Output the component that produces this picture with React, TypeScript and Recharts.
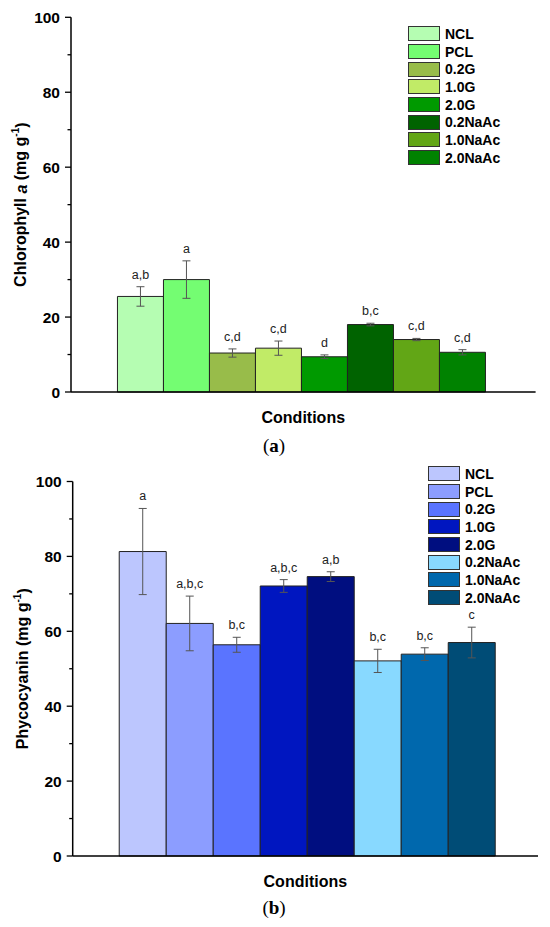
import { BarChart, Bar, XAxis, YAxis, ErrorBar, LabelList, Label } from 'recharts'

const conditions = ['NCL', 'PCL', '0.2G', '1.0G', '2.0G', '0.2NaAc', '1.0NaAc', '2.0NaAc']

const chlValues = [25.5, 30.0, 10.4, 11.7, 9.4, 18.0, 14.0, 10.6]
const chlErrors = [2.6, 5.0, 1.1, 1.9, 0.5, 0.35, 0.3, 0.7]
const chlLetters = ['a,b', 'a', 'c,d', 'c,d', 'd', 'b,c', 'c,d', 'c,d']
const chlColors = ['#b5fdb2', '#74fd72', '#98bc4a', '#c1eb67', '#009a00', '#006300', '#62a616', '#008200']

const pcValues = [81.3, 62.1, 56.4, 72.1, 74.6, 52.1, 53.9, 57.0]
const pcErrors = [11.5, 7.3, 2.0, 1.7, 1.3, 3.1, 1.7, 4.1]
const pcLetters = ['a', 'a,b,c', 'b,c', 'a,b,c', 'a,b', 'b,c', 'b,c', 'c']
const pcColors = ['#bcc6fe', '#8c9dff', '#5a74ff', '#0016c0', '#000e80', '#88d9ff', '#0068ad', '#004c76']

const yTicks = [0, 10, 20, 30, 40, 50, 60, 70, 80, 90, 100]

const FONT = 'Arial, "Liberation Sans", sans-serif'
const TICK_SIZE = 6
const TICK_MARGIN = 5

function buildRows(values: number[], errors: number[]) {
  const row: Record<string, number | string> = { name: 'Conditions' }
  values.forEach((v, i) => {
    row[`s${i}`] = v
    row[`e${i}`] = errors[i]
  })
  return [row]
}

function YTick(props: any) {
  const { x, y, payload } = props
  const v = payload.value
  const major = v % 20 === 0
  const ax = Number(x) + TICK_SIZE + TICK_MARGIN
  return (
    <g>
      <line x1={ax} x2={ax - (major ? 6 : 3.5)} y1={y} y2={y} stroke="#000" strokeWidth={1.3} />
      {major && (
        <text x={ax - 11} y={y} textAnchor="end" dominantBaseline="central" fontFamily={FONT} fontWeight={700} fontSize={15.5} fill="#000">
          {v}
        </text>
      )}
    </g>
  )
}

// letters sit just above the top of each error bar
function letterRenderer(value: number, err: number, letter: string) {
  return (p: any) => {
    const vb = p.viewBox && p.viewBox.height !== undefined ? p.viewBox : p
    const x = Number(vb.x)
    const y = Number(vb.y)
    const w = Number(vb.width)
    const h = Number(vb.height)
    const perUnit = h / value
    const errTop = y - err * perUnit
    return (
      <text x={x + w / 2} y={errTop - 8} textAnchor="middle" fontFamily={FONT} fontSize={12.5} fill="#222">
        {letter}
      </text>
    )
  }
}

interface PanelProps {
  values: number[]
  errors: number[]
  letters: string[]
  colors: string[]
  title: 'chl' | 'pc'
  margin: { top: number; right: number; left: number; bottom: number }
  xHeight: number
}

function Panel({ values, errors, letters, colors, title, margin, xHeight }: PanelProps) {
  const data = buildRows(values, errors)
  const yTitle = ({ viewBox }: any) => {
    const cx = viewBox.x + 10
    const cy = viewBox.y + viewBox.height / 2
    return (
      <text
        x={cx}
        y={cy}
        transform={`rotate(-90, ${cx}, ${cy})`}
        textAnchor="middle"
        dominantBaseline="central"
        fontFamily={FONT}
        fontWeight={700}
        fontSize={16}
        fill="#000"
      >
        {title === 'chl' ? (
          <>
            Chlorophyll <tspan fontStyle="italic">a</tspan> (mg g
          </>
        ) : (
          <>Phycocyanin (mg g</>
        )}
        <tspan dy={-6} fontSize={10}>-1</tspan>
        <tspan dy={6}>)</tspan>
      </text>
    )
  }
  const xTitle = ({ viewBox }: any) => (
    <text
      x={viewBox.x + viewBox.width / 2}
      y={viewBox.y + 25}
      textAnchor="middle"
      dominantBaseline="central"
      fontFamily={FONT}
      fontWeight={700}
      fontSize={16}
      fill="#000"
    >
      Conditions
    </text>
  )
  return (
    <BarChart width={550} height={440} data={data} margin={margin} barCategoryGap="10%" barGap={0}>
      <XAxis
        dataKey="name"
        tick={false}
        tickSize={7}
        height={xHeight}
        axisLine={{ stroke: '#000', strokeWidth: 1.5 }}
        tickLine={{ stroke: '#000', strokeWidth: 1.3 }}
      >
        <Label content={xTitle} />
      </XAxis>
      <YAxis
        type="number"
        domain={[0, 100]}
        ticks={yTicks}
        interval={0}
        width={60}
        tickSize={TICK_SIZE}
        tickMargin={TICK_MARGIN}
        tickLine={false}
        axisLine={{ stroke: '#000', strokeWidth: 1.5 }}
        tick={<YTick />}
      >
        <Label content={yTitle} />
      </YAxis>
      {conditions.map((c, i) => (
        <Bar key={c} name={c} dataKey={`s${i}`} fill={colors[i]} stroke="#222" strokeWidth={1} isAnimationActive={false}>
          <ErrorBar dataKey={`e${i}`} width={4} stroke="#555" strokeWidth={1} direction="y" isAnimationActive={false} />
          <LabelList dataKey={`s${i}`} content={letterRenderer(values[i], errors[i], letters[i])} />
        </Bar>
      ))}
    </BarChart>
  )
}

function LegendBox({ colors, left, top }: { colors: string[]; left: number; top: number }) {
  return (
    <div style={{ position: 'absolute', left, top }}>
      {conditions.map((c, i) => (
        <div key={c} style={{ display: 'flex', alignItems: 'center', height: 17.7 }}>
          <div
            style={{
              width: 32,
              height: 15,
              boxSizing: 'border-box',
              border: '1.5px solid #333',
              background: colors[i],
            }}
          />
          <span style={{ marginLeft: 5, fontFamily: FONT, fontWeight: 700, fontSize: 14, color: '#000' }}>{c}</span>
        </div>
      ))}
    </div>
  )
}

function Caption({ letter, top }: { letter: string; top: number }) {
  return (
    <div
      style={{
        position: 'absolute',
        left: 0,
        top,
        width: 548,
        textAlign: 'center',
        fontFamily: '"Liberation Serif", "DejaVu Serif", serif',
        fontSize: 19,
        lineHeight: '22px',
        color: '#000',
      }}
    >
      (<b>{letter}</b>)
    </div>
  )
}

export default function App() {
  return (
    <div style={{ position: 'absolute', left: 0, top: 0, width: 550, height: 927, background: '#fff' }}>
      <div style={{ position: 'absolute', left: 0, top: 0 }}>
        <Panel
          values={chlValues}
          errors={chlErrors}
          letters={chlLetters}
          colors={chlColors}
          title="chl"
          margin={{ top: 17.3, right: 14.4, left: 11, bottom: 8 }}
          xHeight={40}
        />
      </div>
      <LegendBox colors={chlColors} left={408} top={25} />
      <Caption letter="a" top={435} />
      <div style={{ position: 'absolute', left: 0, top: 460 }}>
        <Panel
          values={pcValues}
          errors={pcErrors}
          letters={pcLetters}
          colors={pcColors}
          title="pc"
          margin={{ top: 21.5, right: 12, left: 12.7, bottom: 8 }}
          xHeight={36}
        />
      </div>
      <LegendBox colors={pcColors} left={428} top={465} />
      <Caption letter="b" top={897} />
    </div>
  )
}
